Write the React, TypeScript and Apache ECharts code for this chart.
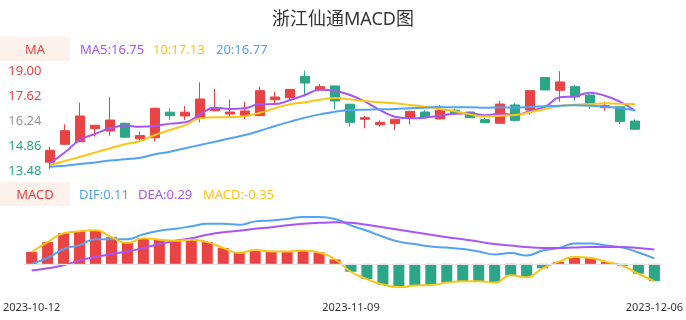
import React, { useEffect, useRef } from "react";
import * as echarts from "echarts";

const dates = [
  "2023-10-12","2023-10-13","2023-10-16","2023-10-17","2023-10-18","2023-10-19","2023-10-20","2023-10-23","2023-10-24","2023-10-25",
  "2023-10-26","2023-10-27","2023-10-30","2023-10-31","2023-11-01","2023-11-02","2023-11-03","2023-11-06","2023-11-07","2023-11-08",
  "2023-11-09","2023-11-10","2023-11-13","2023-11-14","2023-11-15","2023-11-16","2023-11-17","2023-11-20","2023-11-21","2023-11-22",
  "2023-11-23","2023-11-24","2023-11-27","2023-11-28","2023-11-29","2023-11-30","2023-12-01","2023-12-04","2023-12-05","2023-12-06",
];

// [open, close, low, high]
const kline = [
  [13.91, 14.57, 13.52, 14.77],
  [14.90, 15.65, 14.88, 16.00],
  [15.04, 16.46, 15.01, 17.20],
  [15.76, 15.95, 15.32, 15.97],
  [15.63, 16.24, 15.37, 17.49],
  [16.06, 15.29, 15.27, 16.08],
  [15.20, 15.38, 15.08, 15.60],
  [15.26, 16.89, 15.04, 16.90],
  [16.67, 16.48, 16.24, 16.89],
  [16.46, 16.67, 16.24, 17.01],
  [16.33, 17.40, 16.11, 18.32],
  [16.75, 16.92, 16.73, 17.95],
  [16.57, 16.68, 16.39, 17.38],
  [16.48, 16.74, 16.28, 17.25],
  [16.48, 17.86, 16.46, 18.08],
  [17.36, 17.51, 17.16, 17.80],
  [17.47, 17.93, 17.36, 17.95],
  [18.65, 18.28, 17.53, 18.96],
  [17.91, 18.08, 17.88, 18.23],
  [18.12, 17.29, 16.83, 18.14],
  [17.11, 16.11, 15.87, 17.13],
  [16.28, 16.37, 15.78, 16.46],
  [15.98, 16.11, 15.87, 16.22],
  [16.04, 16.28, 15.69, 16.30],
  [16.33, 16.72, 16.00, 16.75],
  [16.68, 16.39, 16.37, 16.79],
  [16.30, 16.78, 16.28, 17.07],
  [16.78, 16.64, 16.62, 16.86],
  [16.68, 16.37, 16.35, 16.70],
  [16.26, 16.09, 16.07, 16.37],
  [16.06, 17.12, 16.04, 17.29],
  [17.07, 16.22, 16.15, 17.18],
  [16.79, 17.86, 16.55, 17.88],
  [18.58, 17.90, 17.88, 18.60],
  [17.88, 18.34, 17.25, 18.94],
  [18.08, 17.51, 17.29, 18.17],
  [17.62, 17.11, 16.85, 17.64],
  [16.92, 17.03, 16.75, 17.25],
  [16.97, 16.15, 16.00, 16.99],
  [16.18, 15.73, 15.71, 16.28],
];

const ma5 = [13.85,14.46,15.14,15.47,15.78,15.93,15.87,15.91,16.04,16.11,16.55,16.92,16.85,16.89,17.11,17.12,17.34,17.62,17.91,17.84,17.62,17.25,16.79,16.42,16.33,16.37,16.48,16.59,16.61,16.50,16.59,16.52,16.74,16.97,17.49,17.55,17.75,17.58,17.25,16.75];
const ma10 = [13.76,13.98,14.21,14.44,14.68,14.90,15.08,15.41,15.69,15.96,16.33,16.39,16.39,16.46,16.64,16.89,17.11,17.22,17.36,17.45,17.38,17.29,17.22,17.16,17.07,16.97,16.85,16.72,16.55,16.44,16.48,16.52,16.67,16.85,17.01,17.08,17.12,17.16,17.14,17.13];
const ma20 = [13.66,13.72,13.81,13.90,14.00,14.07,14.16,14.35,14.49,14.68,14.86,15.04,15.23,15.41,15.65,15.91,16.15,16.37,16.55,16.70,16.79,16.81,16.83,16.85,16.89,16.92,16.96,16.94,16.94,16.92,16.94,16.92,16.96,17.00,17.03,17.05,17.03,16.97,16.90,16.77];

const dif = [0.00,0.12,0.30,0.38,0.50,0.50,0.50,0.60,0.67,0.71,0.76,0.81,0.81,0.79,0.86,0.88,0.91,0.95,0.95,0.91,0.78,0.67,0.55,0.45,0.40,0.35,0.33,0.30,0.25,0.19,0.22,0.17,0.27,0.32,0.41,0.41,0.37,0.33,0.23,0.11];
const dea = [-0.135,-0.09,-0.03,0.07,0.14,0.20,0.25,0.32,0.40,0.47,0.52,0.59,0.64,0.67,0.71,0.74,0.78,0.81,0.83,0.84,0.83,0.79,0.74,0.69,0.64,0.59,0.54,0.50,0.45,0.40,0.37,0.34,0.32,0.32,0.33,0.34,0.34,0.34,0.32,0.29];
const macd = [0.24,0.44,0.62,0.66,0.68,0.54,0.42,0.52,0.49,0.47,0.49,0.44,0.32,0.22,0.28,0.25,0.25,0.27,0.23,0.09,-0.16,-0.31,-0.42,-0.47,-0.44,-0.43,-0.38,-0.35,-0.35,-0.38,-0.23,-0.27,-0.09,0.04,0.14,0.12,0.04,-0.04,-0.20,-0.35];

const labelIdx = [0, 20, 39];

const RED = "#eb4343";
const GREEN = "#2ba686";
const PURPLE = "#a855f7";
const YELLOW = "#fac515";
const BLUE = "#52a3f5";
const FONT = '"Noto Sans", "Noto Sans CJK SC", sans-serif';

export default function App() {
  const ref = useRef<HTMLDivElement>(null);
  useEffect(() => {
    if (!ref.current) return;
    const chart = echarts.init(ref.current, null, { renderer: "svg" });
    const option = {
      animation: false,
      textStyle: { fontFamily: FONT },
      title: {
        text: "浙江仙通MACD图",
        left: "center",
        top: 4,
        textStyle: { fontSize: 18, fontWeight: "normal", color: "#333", fontFamily: FONT },
      },
      graphic: [
        { type: "rect", left: 0, top: 37, shape: { width: 70, height: 24 }, style: { fill: "#fdf1ec" } },
        { type: "text", x: 35, y: 49, style: { text: "MA", fill: RED, font: `13px ${FONT}`, align: "center", verticalAlign: "middle" } },
        { type: "text", x: 80, y: 49, style: { text: "MA5:" + ma5[ma5.length - 1].toFixed(2), fill: PURPLE, font: `13px ${FONT}`, verticalAlign: "middle" } },
        { type: "text", x: 153, y: 49, style: { text: "10:" + ma10[ma10.length - 1].toFixed(2), fill: YELLOW, font: `13px ${FONT}`, verticalAlign: "middle" } },
        { type: "text", x: 216, y: 49, style: { text: "20:" + ma20[ma20.length - 1].toFixed(2), fill: BLUE, font: `13px ${FONT}`, verticalAlign: "middle" } },
        { type: "rect", left: 0, top: 182, shape: { width: 70, height: 24 }, style: { fill: "#fdf1ec" } },
        { type: "text", x: 35, y: 194, style: { text: "MACD", fill: RED, font: `13px ${FONT}`, align: "center", verticalAlign: "middle" } },
        { type: "text", x: 79, y: 194, style: { text: "DIF:" + dif[dif.length - 1].toFixed(2), fill: BLUE, font: `13px ${FONT}`, verticalAlign: "middle" } },
        { type: "text", x: 138, y: 194, style: { text: "DEA:" + dea[dea.length - 1].toFixed(2), fill: PURPLE, font: `13px ${FONT}`, verticalAlign: "middle" } },
        { type: "text", x: 203, y: 194, style: { text: "MACD:" + macd[macd.length - 1].toFixed(2), fill: YELLOW, font: `13px ${FONT}`, verticalAlign: "middle" } },
      ],
      grid: [
        { left: 42.5, right: 43.5, top: 70, height: 100 },
        { left: 20, right: 21, top: 212, height: 80 },
      ],
      xAxis: [
        {
          type: "category", gridIndex: 0, data: dates, boundaryGap: true,
          axisLine: { show: false }, axisTick: { show: false }, axisLabel: { show: false }, splitLine: { show: false },
        },
        {
          type: "category", gridIndex: 1, data: dates, boundaryGap: true,
          axisLine: { show: false }, axisTick: { show: false }, splitLine: { show: false },
          axisLabel: {
            color: "#333", fontSize: 11, margin: 9, fontFamily: FONT,
            interval: (i: number) => labelIdx.indexOf(i) >= 0,
          },
        },
      ],
      yAxis: [
        {
          type: "value", gridIndex: 0, min: 13.48, max: 19.0, interval: 1.38,
          axisLine: { show: false }, axisTick: { show: false }, splitLine: { show: false },
          axisLabel: {
            fontSize: 13, margin: 1, fontFamily: FONT,
            formatter: (v: number) => v.toFixed(2),
            color: (v: any) => {
              const n = Number(v);
              if (n > 16.25) return RED;
              if (n < 16.23) return GREEN;
              return "#999";
            },
          },
        },
        { type: "value", gridIndex: 1, min: -0.57, max: 1.05, show: false, splitLine: { show: false } },
      ],
      series: [
        {
          type: "candlestick", xAxisIndex: 0, yAxisIndex: 0, data: kline, barWidth: 9,
          itemStyle: { color: RED, color0: GREEN, borderColor: RED, borderColor0: GREEN, borderWidth: 1 },
        },
        { type: "line", xAxisIndex: 0, yAxisIndex: 0, data: ma5, smooth: true, symbol: "none", lineStyle: { color: PURPLE, width: 2 } },
        { type: "line", xAxisIndex: 0, yAxisIndex: 0, data: ma10, smooth: true, symbol: "none", lineStyle: { color: YELLOW, width: 2 } },
        { type: "line", xAxisIndex: 0, yAxisIndex: 0, data: ma20, smooth: true, symbol: "none", lineStyle: { color: BLUE, width: 2 } },
        {
          type: "bar", xAxisIndex: 1, yAxisIndex: 1, data: macd, barWidth: 11,
          itemStyle: { color: (p: any) => (p.value >= 0 ? RED : GREEN) },
          markLine: {
            silent: true, symbol: ["none", "none"], label: { show: false },
            lineStyle: { color: "#e3e3e3", type: "solid", width: 1 },
            data: [{ yAxis: 0 }],
          },
        },
        { type: "line", xAxisIndex: 1, yAxisIndex: 1, data: dif, smooth: true, symbol: "none", lineStyle: { color: BLUE, width: 2 } },
        { type: "line", xAxisIndex: 1, yAxisIndex: 1, data: dea, smooth: true, symbol: "none", lineStyle: { color: PURPLE, width: 2 } },
        { type: "line", xAxisIndex: 1, yAxisIndex: 1, data: macd, smooth: true, symbol: "none", lineStyle: { color: YELLOW, width: 2 } },
      ],
    };
    chart.setOption(option as any);
    return () => chart.dispose();
  }, []);
  return <div ref={ref} style={{ position: "fixed", left: 0, top: 0, width: 686, height: 320 }} />;
}
